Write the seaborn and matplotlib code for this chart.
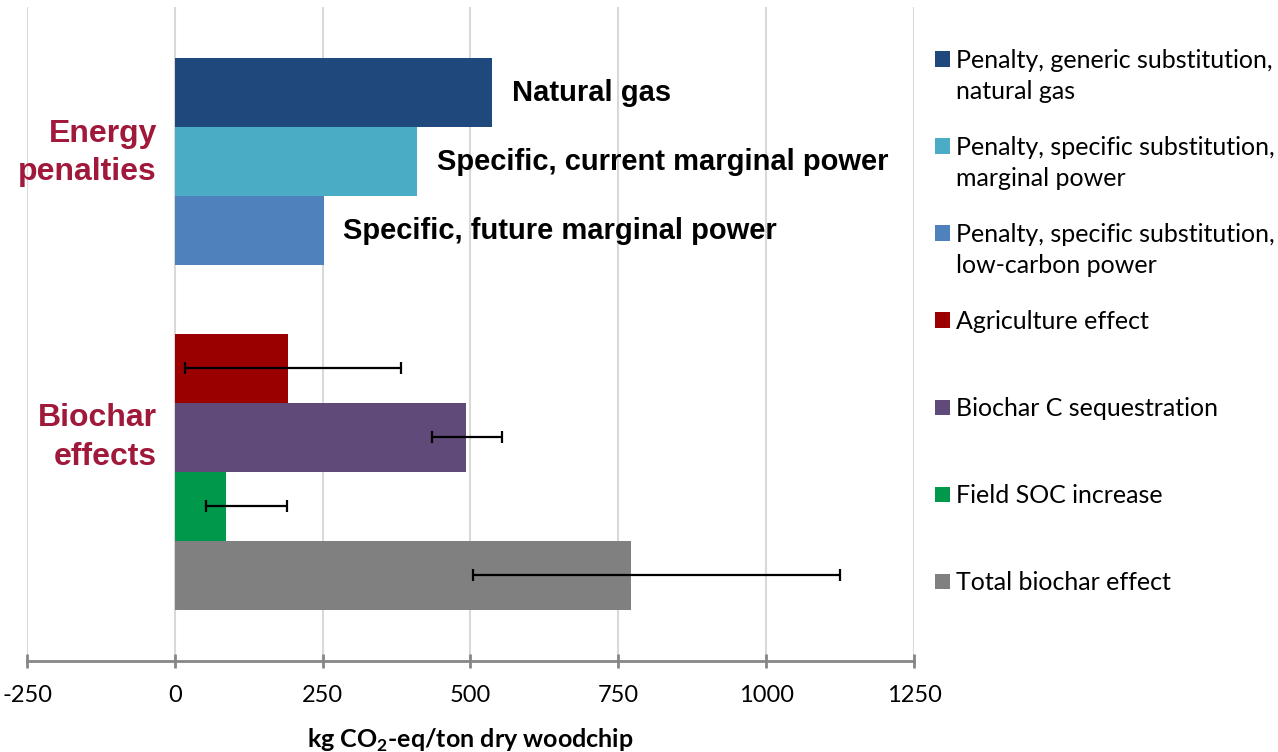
import matplotlib
matplotlib.use('Agg')
from matplotlib import pyplot as plt
from matplotlib.patches import Rectangle
import seaborn as sns
import pandas as pd
import numpy as np


# ---------- DATA ----------
categories = ['Natural gas', 'Specific, current marginal power', 'Specific, future marginal power',
              'Agriculture effect', 'Biochar C sequestration', 'Field SOC increase', 'Total biochar effect']
values = [537, 410, 252, 191, 493, 86, 771]
err_low = [np.nan, np.nan, np.nan, 18, 435, 52, 504]
err_high = [np.nan, np.nan, np.nan, 382, 553, 189, 1125]
bar_labels = ['Natural gas', 'Specific, current marginal power', 'Specific, future marginal power',
              '', '', '', '']
legend_labels = ['Penalty, generic substitution,\nnatural gas',
                 'Penalty, specific substitution,\nmarginal power',
                 'Penalty, specific substitution,\nlow-carbon power',
                 'Agriculture effect', 'Biochar C sequestration', 'Field SOC increase',
                 'Total biochar effect']
colors = ['#1F497D', '#4BACC6', '#4F81BD', '#9A0000', '#604A7A', '#00994C', '#808080']
groups = ['Energy\npenalties', 'Biochar\neffects']
x_ticks = [-250, 0, 250, 500, 750, 1000, 1250]

df = pd.DataFrame({'cat': categories, 'value': values, 'low': err_low, 'high': err_high})
# leere Kategorie als Abstand zwischen den zwei Gruppen
order = categories[:3] + [' '] + categories[3:]

# ---------- PLOT ----------
sns.set_style('white')
plt.rcParams['font.family'] = ['Lato', 'DejaVu Sans']
plt.rcParams['text.color'] = 'black'
plt.rcParams['xtick.color'] = 'black'
plt.rcParams['axes.labelcolor'] = 'black'
plt.rcParams['mathtext.fontset'] = 'custom'
plt.rcParams['mathtext.rm'] = 'Lato'
plt.rcParams['mathtext.bf'] = 'Lato:bold'

fig = plt.figure(figsize=(12.78, 7.52), dpi=100)
ax = fig.add_axes([27 / 1278, 1 - 661 / 752, (914 - 27) / 1278, (661 - 7) / 752])

sns.barplot(data=df, x='value', y='cat', order=order, hue='cat', hue_order=categories,
            palette=colors, saturation=1, width=1.0, errorbar=None, legend=False,
            linewidth=0, ax=ax)

# Fehlerbalken
pos = np.array([order.index(c) for c in df['cat']])
mask = df['low'].notna().values
v = df['value'].values[mask]
ax.errorbar(v, pos[mask], xerr=[v - df['low'].values[mask], df['high'].values[mask] - v],
            fmt='none', ecolor='black', elinewidth=1.6, capsize=4.5, capthick=1.6)

# Beschriftung der Balken
for lab, val, p in zip(bar_labels, values, pos):
    if lab:
        ax.annotate(lab, (val, p), xytext=(14, 0), textcoords='offset points', va='center',
                    ha='left', fontsize=21, fontweight='bold', family='Liberation Sans',
                    color='black')

# Gruppennamen
ax.text(-30, 0.87, groups[0], ha='right', va='center', fontsize=23, fontweight='bold',
        color='#A0183A', family='Liberation Sans', linespacing=1.35)
ax.text(-30, 5.0, groups[1], ha='right', va='center', fontsize=23, fontweight='bold',
        color='#A0183A', family='Liberation Sans', linespacing=1.35)

ax.set_xlim(-250, 1250)
ax.set_ylim(8.24, -1.24)
ax.set_xticks(x_ticks)
ax.set_xticklabels([str(t) for t in x_ticks], fontsize=17)
ax.set_yticks([])
ax.set_ylabel('')
ax.set_xlabel(r'kg CO$_\mathbf{2}$-eq/ton dry woodchip', fontsize=18, fontweight='bold', labelpad=15)
ax.grid(axis='x', color='#D9D9D9', linewidth=1.5)
ax.set_axisbelow(True)
for s in ['top', 'right', 'left']:
    ax.spines[s].set_visible(False)
ax.spines['bottom'].set_color('#868686')
ax.spines['bottom'].set_linewidth(2)
ax.tick_params(axis='x', bottom=True, direction='inout', length=10, width=2,
               color='#868686', labelcolor='black', pad=12)

# Legende
for i, (lab, col) in enumerate(zip(legend_labels, colors)):
    y = 59 + 87 * i
    fig.add_artist(Rectangle((935 / 1278, 1 - (y + 7.5) / 752), 15 / 1278, 15 / 752,
                             transform=fig.transFigure, facecolor=col, edgecolor='none'))
    fig.text(956 / 1278, 1 - (y - 10) / 752, lab, ha='left', va='top', fontsize=18,
             linespacing=1.4)

fig.savefig('out.png', dpi=100)
